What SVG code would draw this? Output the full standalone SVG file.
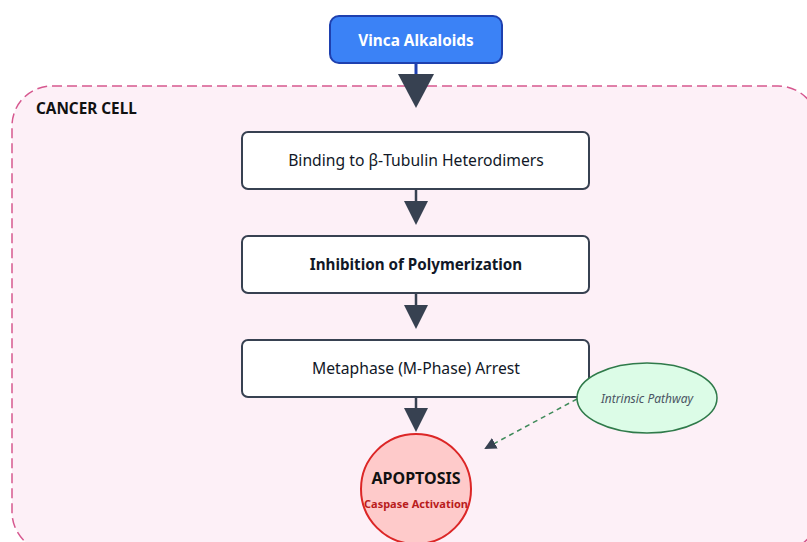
<svg xmlns="http://www.w3.org/2000/svg" width="807" height="542" viewBox="0 0 807 542">
  <defs>
    <style>
      text { font-family: "Noto Sans", "Open Sans", "DejaVu Sans", sans-serif; }
      .step rect { fill: #ffffff; stroke: #374151; stroke-width: 2; }
      .step text { font-size: 15.7px; fill: #111827; text-anchor: middle; dominant-baseline: central; }
      .step text.b { font-size: 15.2px; font-weight: bold; }
      .flow { stroke: #374151; stroke-width: 2.5; fill: none; }
      .head { fill: #374151; }
    </style>
    <marker id="dashHead" markerWidth="12" markerHeight="12" refX="10" refY="6" orient="auto" markerUnits="userSpaceOnUse">
      <path d="M0,0 L12,6 L0,12 Z" fill="#374151"/>
    </marker>
  </defs>

  <rect width="807" height="542" fill="#ffffff"/>

  <g id="cancer-cell">
    <rect x="12" y="86" width="806" height="466" rx="40" ry="40" fill="#fdf0f7" stroke="#d6588f" stroke-width="1.5" stroke-dasharray="10,5"/>
    <text x="36" y="114" font-size="15.3" font-weight="bold" fill="#111111">CANCER CELL</text>
  </g>

  <g id="connectors">
    <line x1="416" y1="63" x2="416" y2="76" stroke="#1e40af" stroke-width="3"/>
    <path class="head" d="M398,74 L434,74 L416,108 Z"/>
    <line class="flow" x1="416" y1="189" x2="416" y2="203"/>
    <path class="head" d="M404,201 L428,201 L416,225 Z"/>
    <line class="flow" x1="416" y1="293" x2="416" y2="307"/>
    <path class="head" d="M404,305 L428,305 L416,329 Z"/>
    <line class="flow" x1="416" y1="397" x2="416" y2="410"/>
    <path class="head" d="M404,408 L428,408 L416,432 Z"/>
    <line x1="577" y1="399" x2="486" y2="448" stroke="#3f8a5a" stroke-width="1.5" stroke-dasharray="5,4" marker-end="url(#dashHead)"/>
  </g>

  <g id="vinca-alkaloids">
    <rect x="330" y="16" width="172" height="47" rx="9" ry="9" fill="#3b82f6" stroke="#1e40af" stroke-width="2"/>
    <text x="416" y="40" font-size="15.3" font-weight="bold" fill="#ffffff" text-anchor="middle" dominant-baseline="central">Vinca Alkaloids</text>
  </g>

  <g id="binding" class="step">
    <rect x="242" y="132" width="347" height="57" rx="6" ry="6"/>
    <text x="416" y="160">Binding to β-Tubulin Heterodimers</text>
  </g>

  <g id="inhibition" class="step">
    <rect x="242" y="236" width="347" height="57" rx="6" ry="6"/>
    <text class="b" x="416" y="264">Inhibition of Polymerization</text>
  </g>

  <g id="metaphase" class="step">
    <rect x="242" y="340" width="347" height="57" rx="6" ry="6"/>
    <text x="416" y="368">Metaphase (M-Phase) Arrest</text>
  </g>

  <g id="intrinsic-pathway">
    <ellipse cx="647" cy="398" rx="70" ry="35" fill="#dcfce7" stroke="#2f7a4a" stroke-width="1.5"/>
    <text x="647" y="398" font-size="12" font-style="italic" fill="#4b5563" text-anchor="middle" dominant-baseline="central">Intrinsic Pathway</text>
  </g>

  <g id="apoptosis">
    <circle cx="416" cy="489" r="55" fill="#fecaca" stroke="#dc2626" stroke-width="2"/>
    <text x="416" y="478" font-size="16" font-weight="bold" fill="#111111" text-anchor="middle" dominant-baseline="central">APOPTOSIS</text>
    <text x="416" y="503" font-size="11" font-weight="bold" fill="#b91c1c" text-anchor="middle" dominant-baseline="central">Caspase Activation</text>
  </g>
</svg>
